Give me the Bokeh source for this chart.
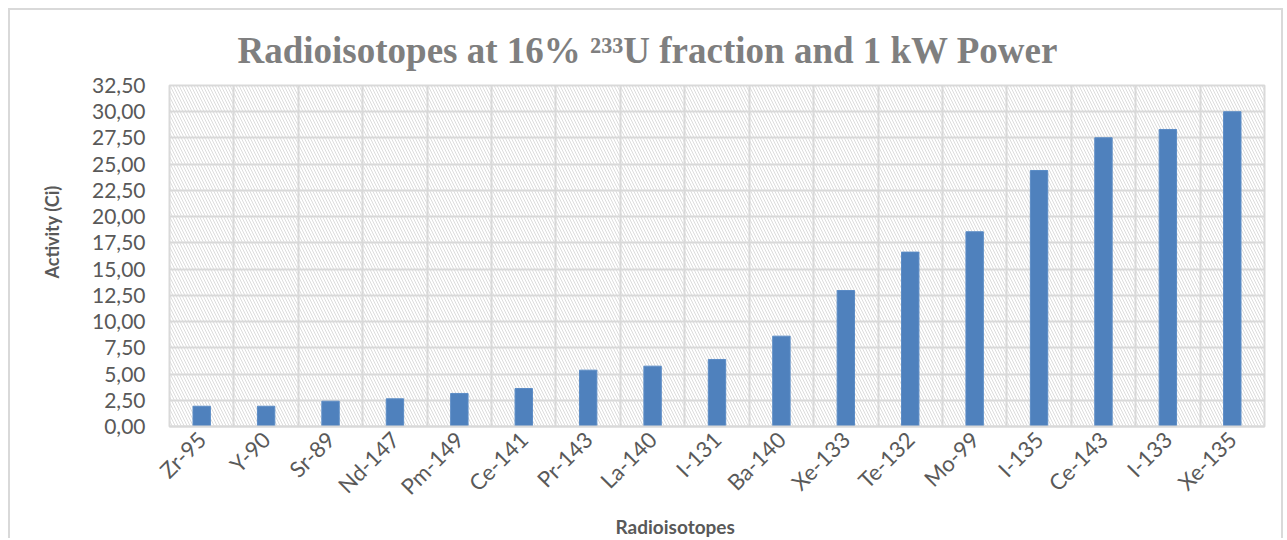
from bokeh.plotting import figure
from bokeh.models import FactorRange, Range1d, FixedTicker, BoxAnnotation, Title
from bokeh.embed import file_html
from bokeh.resources import INLINE
import math

isotopes = ["Zr-95", "Y-90", "Sr-89", "Nd-147", "Pm-149", "Ce-141", "Pr-143", "La-140",
            "I-131", "Ba-140", "Xe-133", "Te-132", "Mo-99", "I-135", "Ce-143", "I-133", "Xe-135"]
activity = [1.93, 1.93, 2.41, 2.64, 3.15, 3.62, 5.37, 5.75, 6.39, 8.61, 12.96, 16.62,
            18.56, 24.40, 27.52, 28.31, 30.00]
y_ticks = [0, 2.5, 5, 7.5, 10, 12.5, 15, 17.5, 20, 22.5, 25, 27.5, 30, 32.5]

title_text = "Radioisotopes at 16% \u00b2\u00b3\u00b3U fraction and 1 kW Power"
x_title = "Radioisotopes"
y_title = "Activity (Ci)"

W, H = 1275, 530
GRID = "#d9d9d9"
LABEL = "#595959"
FONT = "Lato"

p = figure(width=W, height=H, output_backend="svg", toolbar_location=None,
           x_range=FactorRange(factors=isotopes), y_range=Range1d(0, 32.5),
           min_border_left=159, min_border_right=21, min_border_top=75, min_border_bottom=114)
p.styles = {"margin-left": "8px", "margin-top": "8px",
            "border-top": "2px solid #d9d9d9", "border-left": "2px solid #d9d9d9",
            "border-right": "2px solid #d9d9d9"}

p.background_fill_color = "white"
p.border_fill_color = "white"
p.outline_line_color = GRID
p.outline_line_width = 2

# hatched plot-area background
p.add_layout(BoxAnnotation(fill_alpha=0, line_alpha=0, hatch_pattern="\\",
                           hatch_color="#dcdcdc", hatch_scale=6, hatch_weight=1,
                           level="image"))

p.vbar(x=isotopes, top=activity, width=0.27, fill_color="#4f81bd",
       line_color="#5b8cc6", line_width=1)

# grids
p.ygrid.ticker = FixedTicker(ticks=y_ticks)
p.ygrid.grid_line_color = GRID
p.ygrid.grid_line_width = 2
p.xgrid.ticker = FixedTicker(ticks=list(range(len(isotopes) + 1)))
p.xgrid.grid_line_color = GRID
p.xgrid.grid_line_width = 2

# y axis
p.yaxis.ticker = FixedTicker(ticks=y_ticks)
p.yaxis.major_label_overrides = {t: f"{t:.2f}".replace(".", ",") for t in y_ticks}
p.yaxis.axis_line_color = None
p.yaxis.major_tick_line_color = None
p.yaxis.minor_tick_line_color = None
p.yaxis.major_label_text_font = FONT
p.yaxis.major_label_text_font_size = "21px"
p.yaxis.major_label_text_color = LABEL
p.yaxis.major_label_standoff = 18

# x axis
p.xaxis.axis_line_color = GRID
p.xaxis.axis_line_width = 2
p.xaxis.major_tick_line_color = None
p.xaxis.minor_tick_line_color = None
p.xaxis.major_label_orientation = math.pi / 4
p.xaxis.major_label_text_font = FONT
p.xaxis.major_label_text_font_size = "22px"
p.xaxis.major_label_text_color = LABEL
p.xaxis.major_label_standoff = 3

# titles
p.add_layout(Title(text=title_text, align="left", offset=68, standoff=30,
                   text_font="Liberation Serif", text_font_style="bold",
                   text_font_size="37px", text_color="#7f7f7f"), "above")
p.add_layout(Title(text=x_title, align="left", offset=446, standoff=0,
                   text_font=FONT, text_font_style="bold", text_font_size="19px",
                   text_color=LABEL), "below")
p.add_layout(Title(text=y_title, align="left", offset=148, standoff=54,
                   text_font=FONT, text_font_style="bold", text_font_size="18px",
                   text_color=LABEL), "left")

open("out.html", "w").write(file_html(p, INLINE))
